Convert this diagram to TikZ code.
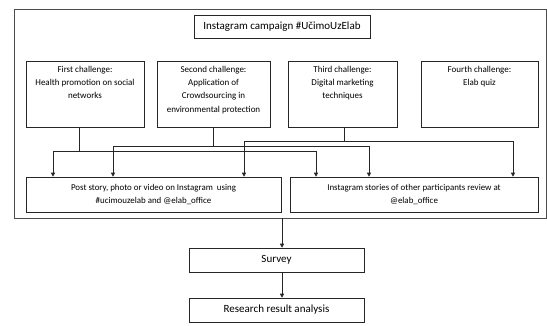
\documentclass[tikz,border=0pt]{standalone}
\usepackage{fontspec}
\setmainfont{Carlito}
\usetikzlibrary{arrows.meta}
\begin{document}
\begin{tikzpicture}[x=1pt,y=-1pt,
  box/.style={draw=black!85, line width=0.6pt, inner sep=0pt},
  txt/.style={align=center, font=\fontsize{9}{13.3}\selectfont, inner sep=0pt, anchor=north},
  arr/.style={draw=black!85, line width=0.6pt, -{Triangle[length=4pt,width=4pt]}},
  con/.style={draw=black!85, line width=0.6pt}]
\useasboundingbox (0,0) rectangle (547,325);
\node[box, draw=black!70, minimum width=532pt, minimum height=209pt] (frame) at (280,113.5) {};
\node[box, minimum width=176pt, minimum height=23pt, font=\fontsize{11}{13}\selectfont] (title) at (282,26.5) {Instagram campaign \#UčimoUzElab};
\node[box, minimum width=118pt, minimum height=66pt] (c1) at (85,94) {};
\node[box, minimum width=113pt, minimum height=66pt] (c2) at (213.5,94) {};
\node[box, minimum width=109pt, minimum height=66pt] (c3) at (342.5,94) {};
\node[box, minimum width=117pt, minimum height=66pt] (c4) at (479.5,94) {};
\node[txt] (t1) at ([yshift=-5pt]c1.north) {First challenge:\\Health promotion on social\\networks};
\node[txt] (t2) at ([yshift=-5pt]c2.north) {Second challenge:\\Application of\\Crowdsourcing in\\environmental protection};
\node[txt] (t3) at ([yshift=-5pt]c3.north) {Third challenge:\\Digital marketing\\techniques};
\node[txt] (t4) at ([yshift=-5pt]c4.north) {Fourth challenge:\\Elab quiz};
\node[box, minimum width=255pt, minimum height=35pt, align=center, font=\fontsize{8.9}{13.3}\selectfont] (A) at (153.5,194.5) {Post story, photo or video on Instagram~ using\\\#ucimouzelab and @elab\_office};
\node[box, minimum width=248pt, minimum height=35pt, align=center, font=\fontsize{8.9}{13.3}\selectfont] (B) at (414,194.5) {Instagram stories of other participants review at\\@elab\_office};
\node[box, minimum width=175pt, minimum height=24pt, font=\fontsize{11}{13}\selectfont] (survey) at (276.5,260) {Survey};
\node[box, minimum width=175pt, minimum height=24pt, font=\fontsize{11}{13}\selectfont] (research) at (276.5,310) {Research result analysis};
% connectors
\draw[arr] ([xshift=-6pt]c1.south) -- ++(0,24) -| ([xshift=-100.5pt]A.north);
\draw[arr] ([xshift=-6pt]c1.south) -- ++(0,24) -| ([xshift=-98pt]B.north);
\draw[arr] (c2.south) -- ++(0,19) -| ([xshift=-40.5pt]A.north);
\draw[arr] (c2.south) -- ++(0,19) -| ([xshift=-45pt]B.north);
\draw[arr] ([xshift=1.5pt]c3.south) -- ++(0,14) -| ([xshift=90.5pt]A.north);
\draw[arr] ([xshift=1.5pt]c3.south) -- ++(0,14) -| ([xshift=99pt]B.north);
\draw[arr] ([xshift=2pt]frame.south) -- ([xshift=5.5pt]survey.north);
\draw[arr] ([xshift=5.5pt]survey.south) -- ([xshift=5.5pt]research.north);
\end{tikzpicture}
\end{document}
